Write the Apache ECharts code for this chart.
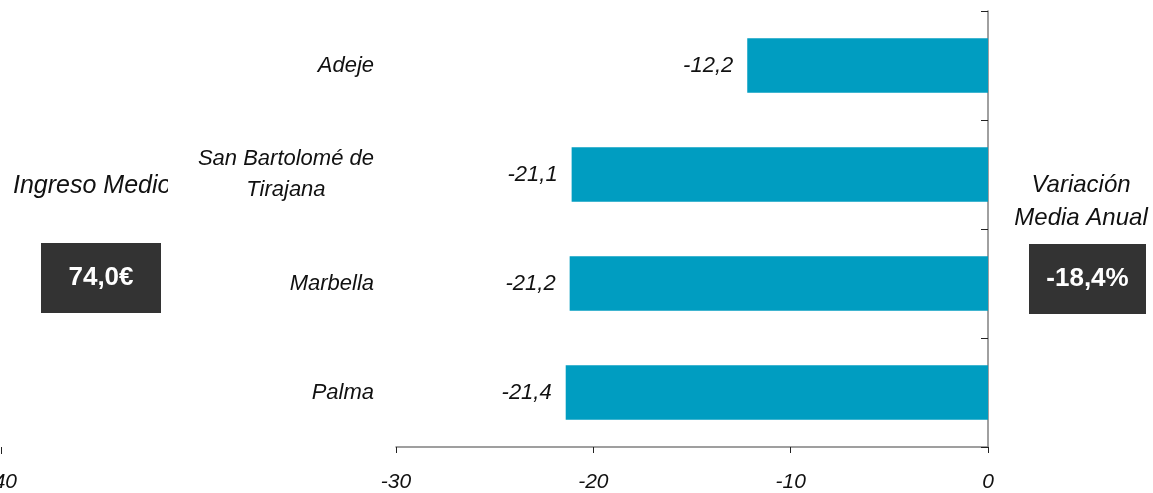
<!DOCTYPE html>
<html>
<head>
<meta charset="utf-8">
<script src="https://cdn.jsdelivr.net/npm/echarts@6/dist/echarts.min.js"></script>
<style>
html,body{margin:0;padding:0;background:#fff;}
#chart{width:1153px;height:493px;}
</style>
</head>
<body>
<div id="chart"></div>
<script>
// ---- data ----
const categories = ['Adeje', 'San Bartolomé de\nTirajana', 'Marbella', 'Palma'];
const values = [-12.2, -21.1, -21.2, -21.4];
const xTicks = [-30, -20, -10, 0];
const leftTitle = 'Ingreso Medio';
const leftValue = '74,0€';
const rightTitle = ['Variación', 'Media Anual'];
const rightValue = '-18,4%';
const leftFragmentTick = '40';

const FONT = '"Liberation Sans", Arial, Helvetica, sans-serif';
const fmt = v => String(v).replace('.', ',');

const chart = echarts.init(document.getElementById('chart'), null, {renderer: 'canvas'});
chart.setOption({
  animation: false,
  backgroundColor: '#ffffff',
  grid: {left: 396, right: 165, top: 11, bottom: 43, containLabel: false},
  xAxis: {
    type: 'value',
    min: xTicks[0],
    max: xTicks[xTicks.length - 1],
    interval: 10,
    splitLine: {show: false},
    axisLine: {show: true, lineStyle: {color: '#808080', width: 1.5}},
    axisTick: {show: true, length: 6, lineStyle: {color: '#222', width: 1}},
    axisLabel: {
      margin: 25,
      fontFamily: FONT, fontSize: 21, fontStyle: 'italic', color: '#111',
      formatter: v => fmt(v)
    }
  },
  yAxis: [
    {
      type: 'category',
      data: categories,
      inverse: true,
      position: 'right',
      axisLine: {show: true, onZero: false, lineStyle: {color: '#808080', width: 1.5}},
      axisTick: {show: true, inside: true, length: 7, lineStyle: {color: '#222', width: 1}},
      axisLabel: {show: false},
      splitLine: {show: false}
    },
    {
      type: 'category',
      data: categories,
      inverse: true,
      position: 'left',
      axisLine: {show: false},
      axisTick: {show: false},
      splitLine: {show: false},
      axisLabel: {
        margin: 22,
        formatter: v => v.split('\n').map(s => '{a|' + s + '}').join('\n'),
        rich: {
          a: {
            fontFamily: FONT, fontSize: 22, fontStyle: 'italic', color: '#111',
            lineHeight: 31, align: 'center'
          }
        }
      }
    }
  ],
  series: [{
    type: 'bar',
    data: values,
    yAxisIndex: 0,
    barWidth: '50%',
    itemStyle: {color: '#009dc1'},
    label: {
      show: true,
      position: 'left',
      distance: 14,
      fontFamily: FONT, fontSize: 22, fontStyle: 'italic', color: '#111',
      formatter: p => fmt(p.value)
    }
  }],
  graphic: [
    {type: 'text', x: 13, y: 186, z: 10,
     style: {text: leftTitle, font: 'italic 25px ' + FONT, fill: '#111', align: 'left', verticalAlign: 'middle'}},
    {type: 'rect', shape: {x: 168, y: 168, width: 26, height: 34}, z: 11,
     style: {fill: '#ffffff'}},
    {type: 'rect', shape: {x: 41, y: 243, width: 120, height: 70}, z: 10,
     style: {fill: '#333333'}},
    {type: 'text', x: 101, y: 278, z: 12,
     style: {text: leftValue, font: 'bold 26px ' + FONT, fill: '#ffffff', align: 'center', verticalAlign: 'middle'}},
    {type: 'text', x: 1081, y: 185, z: 10,
     style: {text: rightTitle[0], font: 'italic 24px ' + FONT, fill: '#111', align: 'center', verticalAlign: 'middle'}},
    {type: 'text', x: 1081, y: 218, z: 10,
     style: {text: rightTitle[1], font: 'italic 24px ' + FONT, fill: '#111', align: 'center', verticalAlign: 'middle'}},
    {type: 'rect', shape: {x: 1029, y: 244, width: 117, height: 70}, z: 10,
     style: {fill: '#333333'}},
    {type: 'text', x: 1087.5, y: 279, z: 12,
     style: {text: rightValue, font: 'bold 26px ' + FONT, fill: '#ffffff', align: 'center', verticalAlign: 'middle'}},
    {type: 'line', shape: {x1: 1.5, y1: 447, x2: 1.5, y2: 454}, z: 10,
     style: {stroke: '#222', lineWidth: 1}},
    {type: 'text', x: 17, y: 482, z: 10,
     style: {text: leftFragmentTick, font: 'italic 21px ' + FONT, fill: '#111', align: 'right', verticalAlign: 'middle'}}
  ]
});
</script>
</body>
</html>
